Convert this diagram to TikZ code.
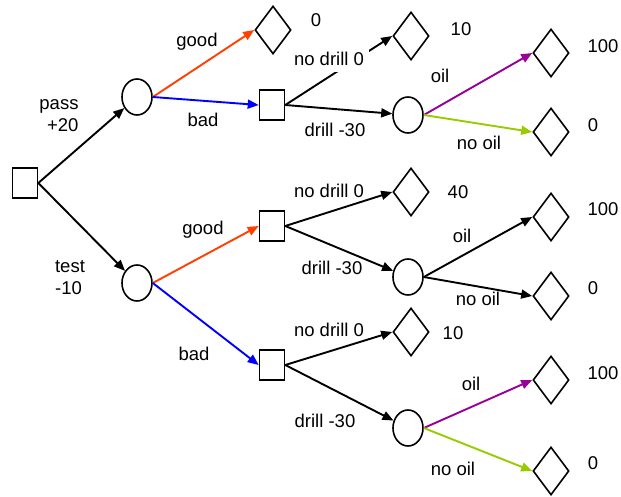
\documentclass[tikz,border=0pt]{standalone}
\usepackage{fontspec}
\setmainfont{Liberation Sans}
\usetikzlibrary{shapes.geometric,arrows.meta}
\definecolor{goodred}{RGB}{255,64,0}
\definecolor{badblue}{RGB}{0,0,255}
\definecolor{oilpurple}{RGB}{153,0,153}
\definecolor{nooilgreen}{RGB}{153,204,0}
\begin{document}
\begin{tikzpicture}[x=1pt,y=-1pt,
    font=\fontsize{18.5}{22}\selectfont,
    choice/.style={draw, line width=1.6pt, rectangle, minimum width=25pt, minimum height=30pt, inner sep=0pt},
    chance/.style={draw, line width=1.6pt, ellipse, minimum width=30pt, minimum height=36pt, inner sep=0pt},
    payoff/.style={draw, line width=1.6pt, diamond, aspect=0.75, minimum width=36pt, minimum height=48pt, inner sep=0pt},
    branch/.style={line width=1.9pt, -{Triangle[length=11pt,width=9pt]}},
    lbl/.style={inner sep=1pt, align=left}]
    % Page frame
    \useasboundingbox (0,0) rectangle (621,497);
    \fill[white] (0,0) rectangle (621,497);

    % Decision and chance nodes
    \node[choice] (root) at (25,183) {};
    \node[chance] (pass) at (137,97) {};
    \node[chance] (test) at (137,283) {};
    \node[choice] (dbad) at (272,105) {};
    \node[choice] (dgood) at (272,226) {};
    \node[choice] (dlow) at (272,365) {};
    \node[chance] (cbad) at (408,115) {};
    \node[chance] (cgood) at (408,277) {};
    \node[chance] (clow) at (408,428) {};

    % End points (payoffs)
    \node[payoff] (egood) at (273,30) {};
    \node[payoff] (enodrillA) at (411,36) {};
    \node[payoff] (eoilA) at (551,53) {};
    \node[payoff] (enooilA) at (551,132) {};
    \node[payoff] (enodrillB) at (411,192) {};
    \node[payoff] (eoilB) at (551,217) {};
    \node[payoff] (enooilB) at (551,296) {};
    \node[payoff] (enodrillC) at (411,332) {};
    \node[payoff] (eoilC) at (551,380) {};
    \node[payoff] (enooilC) at (551,471) {};

    % First choice
    \draw[branch] (root.east) -- (pass);
    \draw[branch] (root.east) -- (test);

    % Test result, upper
    \draw[branch, goodred] (pass.east) -- (egood.west);
    \draw[branch, badblue] (pass.east) -- (dbad.west);
    \draw[branch] (dbad.east) -- (enodrillA.west);
    \draw[branch] (dbad.east) -- (cbad);
    \draw[branch, oilpurple] (cbad.east) -- (eoilA.west);
    \draw[branch, nooilgreen] (cbad.east) -- (enooilA.west);

    % Test result, lower
    \draw[branch, goodred] (test.east) -- (dgood.west);
    \draw[branch, badblue] (test.east) -- (dlow.west);
    \draw[branch] (dgood.east) -- (enodrillB.west);
    \draw[branch] (dgood.east) -- (cgood);
    \draw[branch] (cgood.east) -- (eoilB.west);
    \draw[branch] (cgood.east) -- (enooilB.west);
    \draw[branch] (dlow.east) -- (enodrillC.west);
    \draw[branch] (dlow.east) -- (clow);
    \draw[branch, oilpurple] (clow.east) -- (eoilC.west);
    \draw[branch, nooilgreen] (clow.east) -- (enooilC.west);

    % Branch labels
    \node[lbl, align=right] (lpass) at (59,116) {pass\\+20};
    \node[lbl] (ltest) at (70,278) {test\\-10};
    \node[lbl] (lgoodA) at (197,42) {good};
    \node[lbl] (lbadA) at (203,120) {bad};
    \node[lbl, fill=white, inner xsep=5pt, inner ysep=6pt] (lnodrillA) at (329,59) {no drill 0};
    \node[lbl] (ldrillA) at (335,130) {drill -30};
    \node[lbl] (loilA) at (440,76) {oil};
    \node[lbl] (lnooilA) at (479,143) {no oil};
    \node[lbl] (lgoodB) at (203,230) {good};
    \node[lbl] (lbadB) at (194,354) {bad};
    \node[lbl] (lnodrillB) at (329,191) {no drill 0};
    \node[lbl] (ldrillB) at (332,268) {drill -30};
    \node[lbl] (loilB) at (462,236) {oil};
    \node[lbl] (lnooilB) at (478,299) {no oil};
    \node[lbl] (lnodrillC) at (329,330) {no drill 0};
    \node[lbl] (ldrillC) at (325,421) {drill -30};
    \node[lbl] (loilC) at (471,384) {oil};
    \node[lbl] (lnooilC) at (453,469) {no oil};

    % Payoff values
    \node[lbl] (vgood) at (316,20) {0};
    \node[lbl] (vnodrillA) at (461,29) {10};
    \node[lbl] (voilA) at (603,46) {100};
    \node[lbl] (vnooilA) at (593,125) {0};
    \node[lbl] (vnodrillB) at (458,192) {40};
    \node[lbl] (voilB) at (603,209) {100};
    \node[lbl] (vnooilB) at (593,288) {0};
    \node[lbl] (vnodrillC) at (453,333) {10};
    \node[lbl] (voilC) at (603,373) {100};
    \node[lbl] (vnooilC) at (593,463) {0};
\end{tikzpicture}
\end{document}
